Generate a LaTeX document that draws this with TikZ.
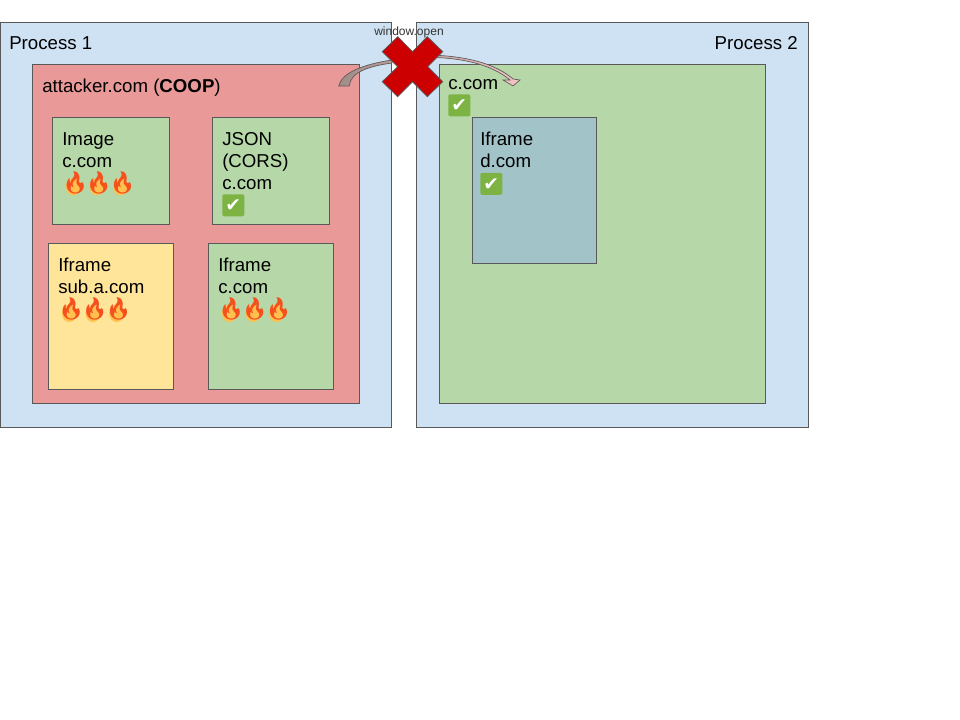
\documentclass[tikz,border=0pt]{standalone}
\usepackage{fontspec}
\setmainfont{Liberation Sans}
\newfontfamily\emojifont{Noto Emoji}
\newfontfamily\symbfont{DejaVu Sans}
\usetikzlibrary{shapes,fit,calc}
\definecolor{procblue}{HTML}{CFE2F3}
\definecolor{sitered}{HTML}{EA9999}
\definecolor{sitegreen}{HTML}{B6D7A8}
\definecolor{siteyellow}{HTML}{FFE599}
\definecolor{siteteal}{HTML}{A2C4C9}
\definecolor{edgegrey}{HTML}{595959}
\definecolor{crossred}{HTML}{CC0000}
\definecolor{okgreen}{HTML}{7CB342}
\definecolor{flameorange}{HTML}{F4511E}
\definecolor{flameyellow}{HTML}{FFC04E}
\definecolor{arrowdark}{HTML}{A08C88}
\definecolor{arrowpale}{HTML}{F2C4C4}
\newcommand{\fire}{\smash{\tikz[baseline=0pt,x=1pt,y=1pt]{
    \fill[flameyellow] (9.2,1.8) ellipse [x radius=5.5,y radius=6.5];
    \node[anchor=base west,inner sep=0pt,text=flameorange,font=\emojifont\fontsize{16.5pt}{16.5pt}\selectfont] (flame) at (0,-0.7) {🔥};
  }}\kern-3.2pt}
\newcommand{\firerow}{\kern-0.75pt\fire\fire\fire}
\newcommand{\okmark}{\smash{\tikz[baseline=-4.5pt,x=1pt,y=1pt]{
    \node[anchor=center,fill=okgreen,rounded corners=1.5pt,minimum size=16.5pt,inner sep=0pt,text=white,font=\symbfont\bfseries\fontsize{14pt}{14pt}\selectfont] (tick) at (0,0) {\makebox[0pt]{\textcolor{okgreen}{\emojifont ✅}}\makebox[0pt]{✔}};
  }}}
\begin{document}
\begin{tikzpicture}[x=0.75pt,y=-0.75pt]
    \tikzstyle{frame} = [draw=edgegrey,line width=0.6pt,anchor=north west,inner sep=0pt]
    \tikzstyle{caption} = [anchor=north west,align=left,inner sep=0pt,font=\fontsize{14pt}{16.5pt}\selectfont]

    \useasboundingbox (0,0) rectangle (960,720);

    \node[frame,fill=procblue,minimum width=293.25pt,minimum height=303pt] (process one) at (0,22.5) {};
    \node[frame,fill=procblue,minimum width=294pt,minimum height=303pt] (process two) at (416,22.5) {};
    \node[frame,fill=sitered,minimum width=245.25pt,minimum height=253.5pt] (attacker) at (32,64.5) {};
    \node[frame,fill=sitegreen,minimum width=244.5pt,minimum height=253.5pt] (ccom) at (439,64.5) {};
    \node[frame,fill=sitegreen,minimum width=87.75pt,minimum height=80.25pt] (image) at (52,117.5) {};
    \node[frame,fill=sitegreen,minimum width=87.75pt,minimum height=80.25pt] (json) at (212,117.5) {};
    \node[frame,fill=siteyellow,minimum width=93.75pt,minimum height=108.75pt] (iframe sub) at (48,243.5) {};
    \node[frame,fill=sitegreen,minimum width=93.75pt,minimum height=108.75pt] (iframe c) at (208,243.5) {};
    \node[frame,fill=siteteal,minimum width=93pt,minimum height=109.5pt] (iframe d) at (472,117.5) {};

    \node[caption] (process one text) at (9,36) {Process 1};
    \node[caption,anchor=north east] (process two text) at (798,36) {Process 2};
    \node[caption] (attacker text) at (42,79) {attacker.com (\textbf{COOP})};
    \node[caption] (image text) at (62,132) {Image\\c.com\\\firerow};
    \node[caption] (json text) at (222,132) {JSON\\(CORS)\\c.com\\\okmark};
    \node[caption] (iframe sub text) at (58,258) {Iframe\\sub.a.com\\\firerow};
    \node[caption] (iframe c text) at (218,258) {Iframe\\c.com\\\firerow};
    \node[caption] (ccom text) at (448,79) {c.com\\\okmark};
    \node[caption] (iframe d text) at (480,132) {Iframe\\d.com\\\okmark};

    \coordinate (open tail) at (344,86);
    \coordinate (open head) at (513,86);
    \draw[edgegrey,line width=0.5pt,left color=arrowdark,right color=arrowpale]
      ([xshift=-4]open tail) .. controls (342,72) and (365,64) .. (392,60)
      .. controls (425,55) and (480,55) .. (510,80) -- (503,80) -- (open head) -- (520,80) -- (513,79)
      .. controls (483,53) and (425,53) .. (392,57)
      -- (392,63) .. controls (370,66) and (350,72) .. ([xshift=4]open tail) -- cycle;

    \draw[edgegrey,line width=0.6pt,fill=crossred]
      (382.3,51.7) -- (397.7,36.7) -- (412.5,51.7) -- (427.3,36.7) -- (442.7,51.7) -- (427.7,66.7)
      -- (442.7,81.7) -- (427.3,96.7) -- (412.5,81.7) -- (397.7,96.7) -- (382.3,81.7) -- (397.7,66.7) -- cycle;
    \node[inner sep=0pt,font=\fontsize{9pt}{10pt}\selectfont,text=black!80] (open label) at (409,32) {window.open};
\end{tikzpicture}
\end{document}
